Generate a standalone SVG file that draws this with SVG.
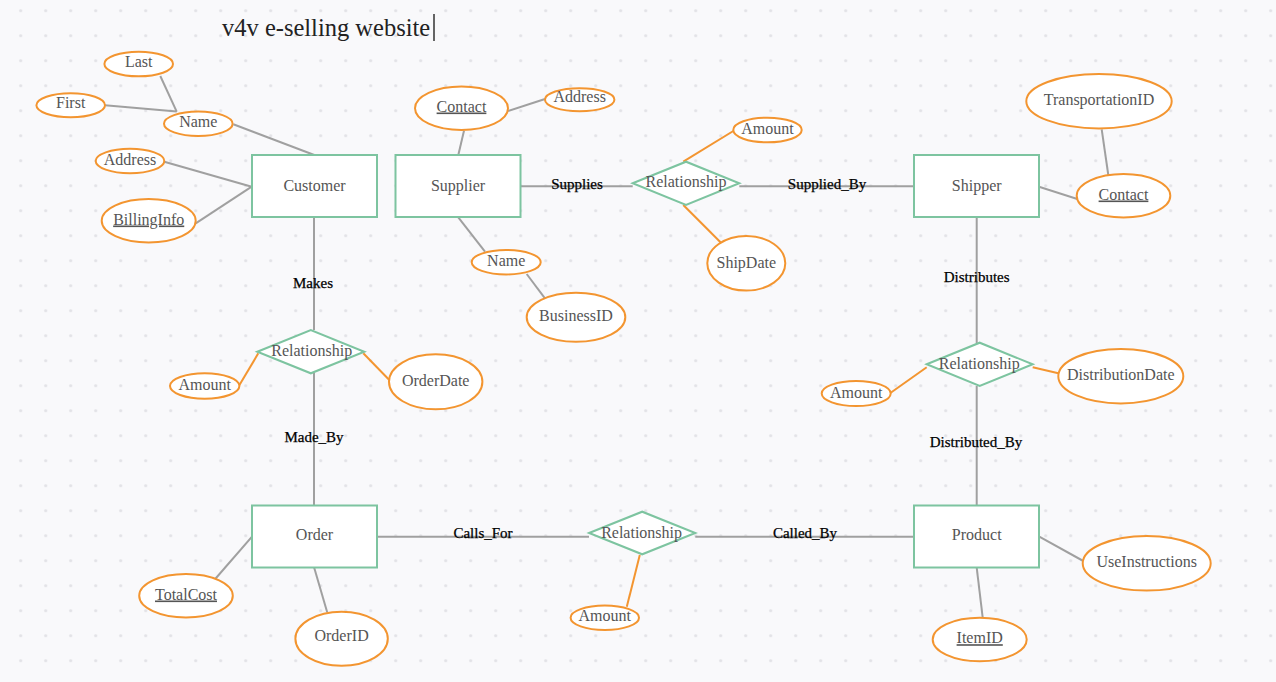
<svg xmlns="http://www.w3.org/2000/svg" width="1276" height="682" viewBox="0 0 1276 682">
<style>
.t{font-family:"Liberation Serif","Times New Roman",serif;font-size:16px;fill:#555;text-anchor:middle}
.u{text-decoration:underline}
.lbl{font-family:"Liberation Serif","Times New Roman",serif;font-size:15px;fill:#000;text-anchor:middle;stroke:#000;stroke-width:0.25}
.ent{fill:#fff;stroke:#7dc4a0;stroke-width:2}
.rel{fill:#fff;stroke:#7dc4a0;stroke-width:2}
.att{fill:#fff;stroke:#f39530;stroke-width:2}
.ln{stroke:#a0a0a0;stroke-width:2;fill:none}
.lo{stroke:#f39530;stroke-width:2;fill:none}
</style>
<defs>
<pattern id="dots" patternUnits="userSpaceOnUse" x="8.2" y="-1.8" width="25" height="25">
<circle cx="12.5" cy="12.5" r="1.6" fill="#e2e2e6"/>
</pattern>
</defs>
<rect width="1276" height="682" fill="#f9f9fb"/>
<rect width="1276" height="682" fill="url(#dots)"/>
<g id="title">
<text x="222" y="36" style="font-family:'Liberation Serif','Times New Roman',serif;font-size:24.5px;fill:#222">v4v e-selling website</text>
<line x1="434" y1="14" x2="434" y2="41" stroke="#333" stroke-width="1.5"/>
</g>
<g id="connectors">
<line class="ln" x1="160.3" y1="76" x2="176.7" y2="111.7"/>
<line class="ln" x1="105" y1="105.3" x2="176.7" y2="111.5"/>
<line class="ln" x1="233.3" y1="124.3" x2="314.3" y2="155"/>
<line class="ln" x1="164.3" y1="161.7" x2="251.7" y2="186.7"/>
<line class="ln" x1="195.7" y1="223.3" x2="251.7" y2="186.7"/>
<line class="ln" x1="314" y1="217" x2="314" y2="330"/>
<line class="ln" x1="314" y1="373" x2="314" y2="505"/>
<line class="lo" x1="239.3" y1="385.3" x2="258.3" y2="353.3"/>
<line class="lo" x1="363.3" y1="353.3" x2="389.3" y2="380"/>
<line class="ln" x1="508" y1="111" x2="545" y2="99"/>
<line class="ln" x1="464" y1="130.7" x2="458.3" y2="155"/>
<line class="ln" x1="458.3" y1="217.3" x2="485" y2="251.7"/>
<line class="ln" x1="526.7" y1="274" x2="545.7" y2="299.3"/>
<line class="ln" x1="520" y1="186.3" x2="632.7" y2="186.3"/>
<line class="lo" x1="683.3" y1="161.7" x2="733.3" y2="131"/>
<line class="lo" x1="683.3" y1="205" x2="721" y2="242.7"/>
<line class="ln" x1="739.3" y1="186.3" x2="914" y2="186.3"/>
<line class="ln" x1="1101.7" y1="129.3" x2="1108.3" y2="175"/>
<line class="ln" x1="1039" y1="186.7" x2="1077.3" y2="199"/>
<line class="ln" x1="976.7" y1="217" x2="976.7" y2="343"/>
<line class="lo" x1="890.7" y1="392.7" x2="926.7" y2="367.3"/>
<line class="lo" x1="1032.7" y1="367.3" x2="1058.3" y2="373.3"/>
<line class="ln" x1="976.7" y1="386" x2="976.7" y2="505"/>
<line class="ln" x1="252" y1="536.7" x2="214.3" y2="580"/>
<line class="ln" x1="314.2" y1="567.7" x2="327.2" y2="612.3"/>
<line class="ln" x1="377" y1="536.7" x2="589" y2="536.7"/>
<line class="lo" x1="639.8" y1="555" x2="626.8" y2="606.7"/>
<line class="ln" x1="695.3" y1="536.7" x2="914" y2="536.7"/>
<line class="ln" x1="1039.3" y1="536.7" x2="1083.3" y2="561"/>
<line class="ln" x1="976.7" y1="567.7" x2="982.7" y2="617.7"/>
<text class="lbl" x="313" y="288">Makes</text>
<text class="lbl" x="314" y="441.5">Made_By</text>
<text class="lbl" x="577" y="188.5">Supplies</text>
<text class="lbl" x="827" y="189">Supplied_By</text>
<text class="lbl" x="976.7" y="282">Distributes</text>
<text class="lbl" x="976" y="447">Distributed_By</text>
<text class="lbl" x="483" y="538">Calls_For</text>
<text class="lbl" x="805" y="538">Called_By</text>
</g>
<g id="customer"><rect class="ent" x="252" y="155" width="125" height="62"/><text class="t" x="314.5" y="191">Customer</text></g>
<g id="supplier"><rect class="ent" x="395.5" y="155" width="125" height="62"/><text class="t" x="458" y="191">Supplier</text></g>
<g id="shipper"><rect class="ent" x="914" y="155" width="125" height="62"/><text class="t" x="976.7" y="191">Shipper</text></g>
<g id="order"><rect class="ent" x="252" y="505.5" width="125" height="62"/><text class="t" x="314.5" y="540">Order</text></g>
<g id="product"><rect class="ent" x="914" y="505.5" width="125" height="62"/><text class="t" x="976.7" y="540">Product</text></g>
<g id="rel-makes"><polygon class="rel" points="257.3,351.7 310.8,330 364.3,351.7 310.8,373.3"/><text class="t" x="311.7" y="356">Relationship</text></g>
<g id="rel-supplies"><polygon class="rel" points="632.7,183.3 686,161.7 739.3,183.3 686,205"/><text class="t" x="686" y="187">Relationship</text></g>
<g id="rel-distributes"><polygon class="rel" points="926.7,364.3 979.7,342.7 1032.7,364.3 979.7,386"/><text class="t" x="979.3" y="368.5">Relationship</text></g>
<g id="rel-calls"><polygon class="rel" points="589.1,533 642.2,511.7 695.3,533 642.2,554.3"/><text class="t" x="641.6" y="537.5">Relationship</text></g>
<g id="attr-last"><ellipse class="att" cx="138.7" cy="64" rx="34.3" ry="12.3"/><text class="t" x="138.7" y="67.3">Last</text></g>
<g id="attr-first"><ellipse class="att" cx="70.7" cy="105.3" rx="34.3" ry="12"/><text class="t" x="70.7" y="108.3">First</text></g>
<g id="attr-cname"><ellipse class="att" cx="198.3" cy="123.8" rx="34.3" ry="12.2"/><text class="t" x="198.3" y="126.8">Name</text></g>
<g id="attr-caddress"><ellipse class="att" cx="130" cy="161" rx="34.3" ry="12.2"/><text class="t" x="130" y="164.5">Address</text></g>
<g id="attr-billing"><ellipse class="att" cx="148.7" cy="220.7" rx="47" ry="21.7"/><text class="t u" x="148.7" y="224.5">BillingInfo</text></g>
<g id="attr-scontact"><ellipse class="att" cx="461.5" cy="108.3" rx="46.5" ry="21.7"/><text class="t u" x="461.5" y="111.5">Contact</text></g>
<g id="attr-saddress"><ellipse class="att" cx="579.7" cy="99.7" rx="34.7" ry="11.5"/><text class="t" x="579.7" y="102.2">Address</text></g>
<g id="attr-sname"><ellipse class="att" cx="506.2" cy="262.2" rx="34.5" ry="12.2"/><text class="t" x="506.2" y="265.8">Name</text></g>
<g id="attr-business"><ellipse class="att" cx="576" cy="317.2" rx="49.3" ry="24.5"/><text class="t" x="576" y="321.2">BusinessID</text></g>
<g id="attr-amount1"><ellipse class="att" cx="767.5" cy="130" rx="34.2" ry="12.3"/><text class="t" x="767.5" y="133.8">Amount</text></g>
<g id="attr-shipdate"><ellipse class="att" cx="746.3" cy="263.3" rx="39" ry="27.3"/><text class="t" x="746.3" y="267.5">ShipDate</text></g>
<g id="attr-transport"><ellipse class="att" cx="1099" cy="101.2" rx="72.7" ry="27.2"/><text class="t" x="1099" y="104.8">TransportationID</text></g>
<g id="attr-shcontact"><ellipse class="att" cx="1123.5" cy="195.7" rx="46.8" ry="21.7"/><text class="t u" x="1123.5" y="199.5">Contact</text></g>
<g id="attr-amount2"><ellipse class="att" cx="204.7" cy="386" rx="34.7" ry="12.7"/><text class="t" x="204.7" y="389.5">Amount</text></g>
<g id="attr-orderdate"><ellipse class="att" cx="435.7" cy="381.8" rx="46.7" ry="27.5"/><text class="t" x="435.7" y="386.2">OrderDate</text></g>
<g id="attr-amount3"><ellipse class="att" cx="856.2" cy="393.5" rx="34.5" ry="12.5"/><text class="t" x="856.2" y="397.5">Amount</text></g>
<g id="attr-distdate"><ellipse class="att" cx="1120.8" cy="376.2" rx="62.5" ry="27.2"/><text class="t" x="1120.8" y="379.8">DistributionDate</text></g>
<g id="attr-totalcost"><ellipse class="att" cx="186" cy="595.7" rx="46.8" ry="21.7"/><text class="t u" x="186" y="599.5">TotalCost</text></g>
<g id="attr-orderid"><ellipse class="att" cx="341.6" cy="638.7" rx="46.2" ry="27"/><text class="t" x="341.6" y="641.2">OrderID</text></g>
<g id="attr-amount4"><ellipse class="att" cx="604.8" cy="617.8" rx="34.2" ry="12.2"/><text class="t" x="604.8" y="621.2">Amount</text></g>
<g id="attr-useinstr"><ellipse class="att" cx="1146.7" cy="563.3" rx="64" ry="27.3"/><text class="t" x="1146.7" y="566.5">UseInstructions</text></g>
<g id="attr-itemid"><ellipse class="att" cx="979.7" cy="639.5" rx="47" ry="21.8"/><text class="t u" x="979.7" y="643.2">ItemID</text></g>
</svg>
